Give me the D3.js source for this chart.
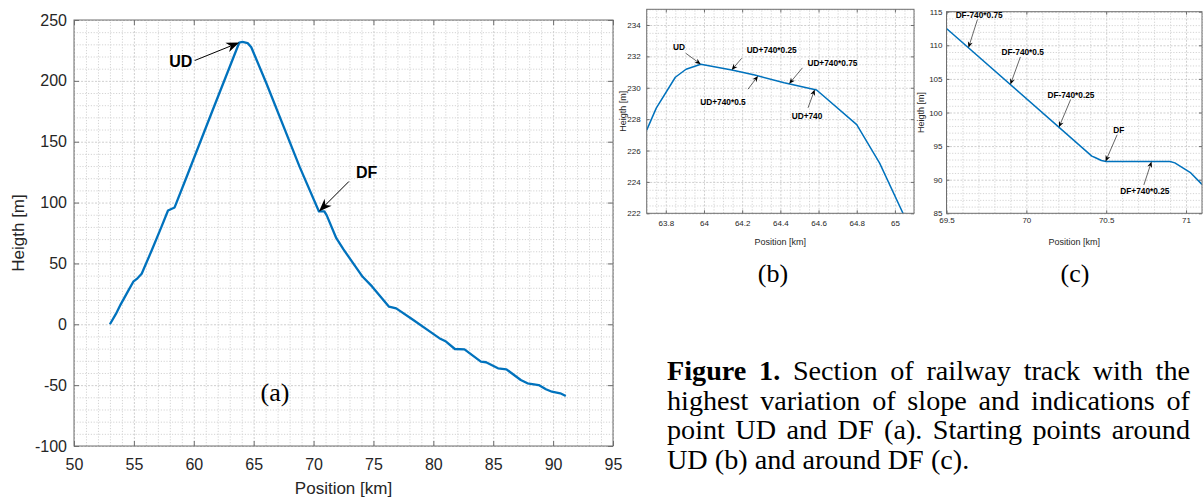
<!DOCTYPE html>
<html><head><meta charset="utf-8">
<script src="https://cdn.jsdelivr.net/npm/d3@7"></script>
<style>
body{margin:0;background:#fff}
svg{display:block}
.grid line{stroke:#d4d4d4;stroke-dasharray:1.2,1.6}
.grid path{display:none}
.gridmaj line{stroke:#cfcfcf;stroke-dasharray:2,1.5}
.gridmaj path{display:none}
.ax path{display:none}
.ax line{stroke:#6e6e6e}
.ax text{fill:#262626;font-family:"Liberation Sans",Arial,sans-serif}
</style>
</head><body><svg id="c" width="1203" height="500"></svg>
<script>
// ---------------- data ----------------
// (a) full section
const posA = [53.0,53.5,53.9,54.5,54.95,55.3,55.65,56.5,57.3,57.85,58.4,59.4,61.5,63.8,64.06,64.5,64.8,66.06,68.83,70.45,70.9,71.1,71.9,72.5,74.1,74.9,75.6,76.3,76.9,78.3,79.9,80.5,81.06,81.8,82.6,83.97,84.4,85.4,86.1,87.3,87.86,88.8,89.4,89.9,90.6,91.06];
const hA   = [0,8.5,16.4,27,35,37.8,41.5,61,80,93.5,96,121,174,231.5,232,231,227.6,198,129.5,92.7,92.7,89.5,70.7,61.5,39,30.9,22.7,14.5,13.1,3.7,-7.3,-11.4,-14.2,-20.3,-20.6,-30.7,-31.2,-36.2,-37,-45.8,-48.5,-49.9,-53.4,-55.4,-56.7,-58.9];
const xTicksA = [50,55,60,65,70,75,80,85,90,95];
const xTickLabelsA = ["50","55","60","65","70","75","80","85","90","95"];
const yTicksA = [-100,-50,0,50,100,150,200,250];
const yTickLabelsA = ["-100","-50","0","50","100","150","200","250"];
const annotLabelsA = ["UD","DF"];
const annotPosA = [63.8,70.45];

// (b) around UD
const posB = [63.7,63.75,63.85,63.906,63.983,64.146,64.266,64.42,64.59,64.8,64.92,65.05];
const hB   = [227.3,228.7,230.67,231.18,231.5,231.13,230.81,230.32,229.86,227.65,225.2,221.8];
const xTicksB = [63.8,64,64.2,64.4,64.6,64.8,65];
const xTickLabelsB = ["63.8","64","64.2","64.4","64.6","64.8","65"];
const yTicksB = [222,224,226,228,230,232,234];
const yTickLabelsB = ["222","224","226","228","230","232","234"];
const annotLabelsB = ["UD","UD+740*0.25","UD+740*0.5","UD+740*0.75","UD+740"];
const annotPosB = [63.983,64.145,64.283,64.446,64.58];

// (c) around DF
const posC = [69.5,70.41,70.43,70.47,70.5,70.9,70.93,70.97,71.03,71.1];
const hC   = [112.5,93.5,93.3,92.85,92.7,92.7,92.5,91.9,91.0,89.3];
const xTicksC = [69.5,70,70.5,71];
const xTickLabelsC = ["69.5","70","70.5","71"];
const yTicksC = [85,90,95,100,105,110,115];
const yTickLabelsC = ["85","90","95","100","105","110","115"];
const annotLabelsC = ["DF-740*0.75","DF-740*0.5","DF-740*0.25","DF","DF+740*0.25"];
const annotPosC = [69.6375,69.9,70.204,70.496,70.784];

const captionLines = [
  [["Figure 1.",true],["Section of railway track with the",false]],
  [["highest variation of slope and indications of",false]],
  [["point UD and DF (a). Starting points around",false]],
  [["UD (b) and around DF (c).",false]]
];

// ---------------- layout ----------------
const FONT = '"Liberation Sans",Arial,sans-serif';
const SERIF = '"Liberation Serif","Times New Roman",serif';
const svg = d3.select("#c");
svg.append("rect").attr("width",1203).attr("height",500).attr("fill","#fff");

function interp(xs, ys, v){
  for(let i=0;i<xs.length-1;i++){
    if(v>=xs[i] && v<=xs[i+1]){const t=(v-xs[i])/(xs[i+1]-xs[i]);return ys[i]+t*(ys[i+1]-ys[i]);}
  }
  return ys[ys.length-1];
}
function range(d,s){const a=[];const n0=Math.ceil(d[0]/s-1e-9),n1=Math.floor(d[1]/s+1e-9);for(let i=n0;i<=n1;i++)a.push(+(i*s).toFixed(6));return a;}

function arrow(g, hx, hy, tx, ty, L, W, sw){
  const ang=Math.atan2(hy-ty,hx-tx), c=Math.cos(ang), s=Math.sin(ang);
  const bx=hx-L*c, by=hy-L*s, nx=hx-0.7*L*c, ny=hy-0.7*L*s;
  g.append("line").attr("x1",tx).attr("y1",ty).attr("x2",nx).attr("y2",ny)
    .attr("stroke","#000").attr("stroke-width",sw);
  const p=[[hx,hy],[bx-W/2*(-s),by-W/2*c],[nx,ny],[bx+W/2*(-s),by+W/2*c]];
  g.append("path").attr("d","M"+p.map(q=>q.join(",")).join("L")+"Z").attr("fill","#000");
}

let clipId=0;
function panel(o){
  const g=svg.append("g");
  const x=d3.scaleLinear().domain(o.xDomain).range([o.left,o.right]);
  const y=d3.scaleLinear().domain(o.yDomain).range([o.bottom,o.top]);
  const H=o.bottom-o.top, Wd=o.right-o.left;
  const isMaj=(arr,v)=>arr.some(t=>Math.abs(t-v)<1e-6);
  // minor grid
  g.append("g").attr("class","grid").attr("transform",`translate(0,${o.bottom})`)
    .call(d3.axisBottom(x).tickValues(range(o.xDomain,o.xMinor).filter(v=>!isMaj(o.xTicks,v))).tickSize(-H).tickFormat(""));
  g.append("g").attr("class","grid").attr("transform",`translate(${o.left},0)`)
    .call(d3.axisLeft(y).tickValues(range(o.yDomain,o.yMinor).filter(v=>!isMaj(o.yTicks,v))).tickSize(-Wd).tickFormat(""));
  // major grid
  g.append("g").attr("class","gridmaj").attr("transform",`translate(0,${o.bottom})`)
    .call(d3.axisBottom(x).tickValues(o.xTicks).tickSize(-H).tickFormat(""));
  g.append("g").attr("class","gridmaj").attr("transform",`translate(${o.left},0)`)
    .call(d3.axisLeft(y).tickValues(o.yTicks).tickSize(-Wd).tickFormat(""));
  // line
  const cid="clip"+(clipId++);
  svg.append("clipPath").attr("id",cid).append("rect").attr("x",o.left).attr("y",o.top).attr("width",Wd).attr("height",H);
  const pts=o.xs.map((v,i)=>[v,o.ys[i]]);
  g.append("path").attr("clip-path",`url(#${cid})`).datum(pts)
    .attr("d",d3.line().x(d=>x(d[0])).y(d=>y(d[1])))
    .attr("fill","none").attr("stroke","#0072BD").attr("stroke-width",o.lw).attr("stroke-linejoin","round");
  // axes (ticks inward, box on)
  const fx=(d,i)=>o.xLabels[o.xTicks.indexOf(d)], fy=(d,i)=>o.yLabels[o.yTicks.indexOf(d)];
  const bx=g.append("g").attr("class","ax").attr("transform",`translate(0,${o.bottom})`)
    .call(d3.axisBottom(x).tickValues(o.xTicks).tickFormat(fx).tickSizeInner(-o.tl).tickSizeOuter(0).tickPadding(o.xPad));
  bx.selectAll("text").attr("font-size",o.fs).attr("y",o.xPad).attr("dy","0.71em");
  const ly=g.append("g").attr("class","ax").attr("transform",`translate(${o.left},0)`)
    .call(d3.axisLeft(y).tickValues(o.yTicks).tickFormat(fy).tickSizeInner(-o.tl).tickSizeOuter(0).tickPadding(o.yPad));
  ly.selectAll("text").attr("font-size",o.fs).attr("x",-o.yPad);
  g.append("g").attr("class","ax").attr("transform",`translate(0,${o.top})`)
    .call(d3.axisTop(x).tickValues(o.xTicks).tickFormat("").tickSizeInner(-o.tl).tickSizeOuter(0));
  g.append("g").attr("class","ax").attr("transform",`translate(${o.right},0)`)
    .call(d3.axisRight(y).tickValues(o.yTicks).tickFormat("").tickSizeInner(-o.tl).tickSizeOuter(0));
  g.append("rect").attr("x",o.left).attr("y",o.top).attr("width",Wd).attr("height",H)
    .attr("fill","none").attr("stroke","#6e6e6e").attr("stroke-width",1);
  // axis titles
  g.append("text").attr("x",(o.left+o.right)/2).attr("y",o.xTitleY).attr("text-anchor","middle")
    .attr("font-family",FONT).attr("font-size",o.tfs).attr("fill","#262626").text("Position [km]");
  g.append("text").attr("transform",`translate(${o.yTitleX},${(o.top+o.bottom)/2}) rotate(-90)`).attr("text-anchor","middle")
    .attr("font-family",FONT).attr("font-size",o.tfs).attr("fill","#262626").text("Heigth [m]");
  // annotations
  const ag=g.append("g");
  o.aLabels.forEach((lab,i)=>{
    const px=o.aPos[i], hx=x(px), hy=y(interp(o.xs,o.ys,px));
    const lay=o.aLayout[i];
    const tx=hx+lay[0], ty=hy+lay[1];
    arrow(ag,hx,hy,tx,ty,o.aL,o.aW,o.asw);
    ag.append("text").attr("x",tx+lay[2]).attr("y",ty+lay[3]).attr("text-anchor","middle")
      .attr("dominant-baseline","central").attr("font-family",FONT).attr("font-weight","bold")
      .attr("font-size",o.afs).attr("fill","#000").text(lab);
  });
}

panel({xDomain:[50,95],yDomain:[-100,250],left:74,right:613,top:20,bottom:446,
  xTicks:xTicksA,xLabels:xTickLabelsA,yTicks:yTicksA,yLabels:yTickLabelsA,xMinor:1,yMinor:10,
  xs:posA,ys:hA,lw:2.3,tl:5,fs:16,tfs:17,xPad:13,yPad:7,xTitleY:494,yTitleX:24,
  aLabels:annotLabelsA,aPos:annotPosA,aLayout:[[-44.6,18,-14,1],[30,-30,17.6,-9.2]],aL:13,aW:10,asw:1,afs:16});

panel({xDomain:[63.7,65.1],yDomain:[222,235],left:646.7,right:914,top:9.3,bottom:213.3,
  xTicks:xTicksB,xLabels:xTickLabelsB,yTicks:yTicksB,yLabels:yTickLabelsB,xMinor:0.05,yMinor:0.5,
  xs:posB,ys:hB,lw:1.5,tl:3,fs:8,tfs:9,xPad:7,yPad:6,xTitleY:244.5,yTitleX:626,
  aLabels:annotLabelsB,aPos:annotPosB,
  aLayout:[[-15,-11,-6.7,-6],[10,-11.7,30,-8.3],[-10,13.3,-25,12.7],[13.3,-16,30,-5],[-6.7,18.3,-1,8.3]],
  aL:6,aW:5,asw:0.6,afs:8.3});

panel({xDomain:[69.5,71.1],yDomain:[85,115],left:946.5,right:1202,top:11.7,bottom:213.3,
  xTicks:xTicksC,xLabels:xTickLabelsC,yTicks:yTicksC,yLabels:yTickLabelsC,xMinor:0.1,yMinor:1,
  xs:posC,ys:hC,lw:1.5,tl:3,fs:8,tfs:9,xPad:4.5,yPad:4,xTitleY:244.5,yTitleX:924,
  aLabels:annotLabelsC,aPos:annotPosC,
  aLayout:[[9,-28.3,1.7,-4],[10,-27.7,2.3,-5],[11.7,-27.7,0.3,-5],[11.6,-26.7,1.7,-5],[-7.7,23.4,1,6]],
  aL:6,aW:5,asw:0.6,afs:8.3});

// sub-figure labels
[["(a)",275,401],["(b)",773,282],["(c)",1075,282]].forEach(d=>{
  svg.append("text").attr("x",d[1]).attr("y",d[2]).attr("text-anchor","middle")
    .attr("font-family",SERIF).attr("font-size",26).attr("fill","#000").text(d[0]);
});

// caption, justified
const capL=667, capR=1190, capFS=28.2, capY0=380, capDY=29.5;
captionLines.forEach((line,li)=>{
  const words=[];
  line.forEach(([txt,bold])=>txt.split(" ").forEach(w=>words.push([w,bold])));
  const t=svg.append("text").attr("y",capY0+li*capDY).attr("font-family",SERIF).attr("font-size",capFS).attr("fill","#000");
  const spans=words.map(([w,b])=>t.append("tspan").attr("font-weight",b?"bold":"normal").text(w));
  const widths=spans.map(s=>s.node().getComputedTextLength());
  const total=d3.sum(widths);
  const justify=li<captionLines.length-1;
  const gap=justify?(capR-capL-total)/(words.length-1):capFS*0.25;
  let cx=capL;
  spans.forEach((s,i)=>{s.attr("x",cx);cx+=widths[i]+gap;});
});
</script>
</body></html>
